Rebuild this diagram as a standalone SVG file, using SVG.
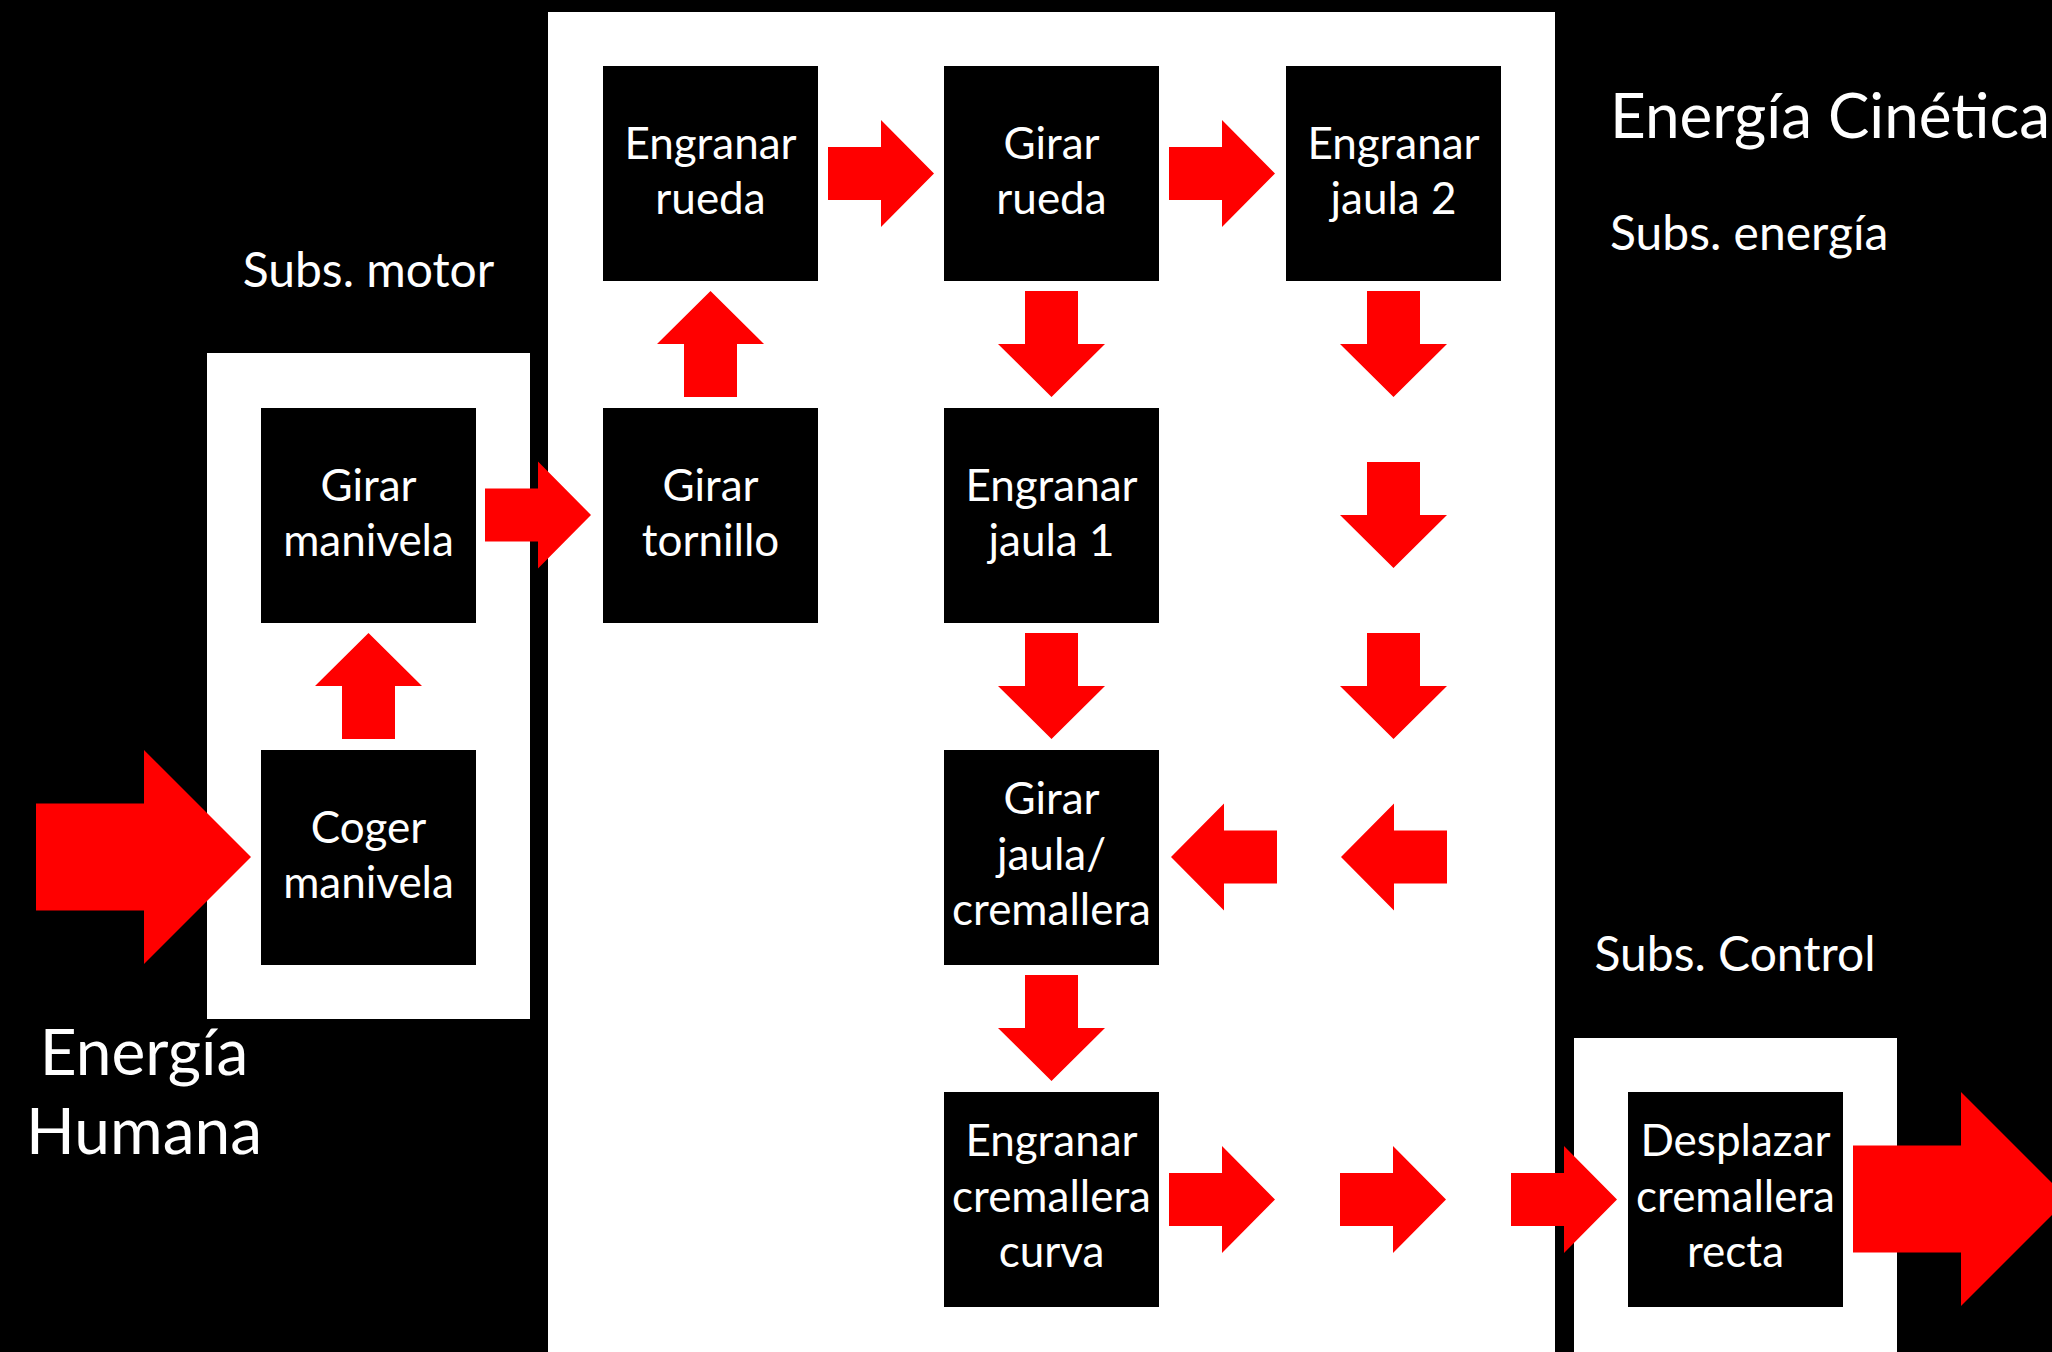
<svg xmlns="http://www.w3.org/2000/svg" xmlns:xlink="http://www.w3.org/1999/xlink" width="2052" height="1352" viewBox="0 0 2052 1352">
  <style>
    .panel { fill: #ffffff; }
    .box { fill: #000000; }
    .lbl { font-family: Lato, "Open Sans", sans-serif; fill: #ffffff; font-size: 44px; text-anchor: middle; }
    .title { font-family: Lato, "Open Sans", sans-serif; fill: #ffffff; font-size: 48px; }
    .big { font-size: 62px; }
    .huge { font-size: 64px; }
    .arrow { fill: #ff0000; }
  </style>
  <defs>
    <!-- block arrow pointing right, shaft starts at origin, centre line y=0 -->
    <path id="arr" d="M0,-26.5 H53 V-53.5 L106,0 L53,53.5 V26.5 H0 Z"/>
    <path id="arrBig" d="M0,-53.5 H108 V-107 L215,0 L108,107 V53.5 H0 Z"/>
  </defs>

  <!-- background -->
  <rect x="0" y="0" width="2052" height="1352" fill="#000000"/>

  <!-- subsystem panels -->
  <rect id="panel-motor" class="panel" x="207" y="353" width="323" height="666"/>
  <rect id="panel-energia" class="panel" x="548" y="12" width="1007" height="1360"/>
  <rect id="panel-control" class="panel" x="1574" y="1038" width="323" height="334"/>

  <!-- free labels -->
  <g id="labels">
    <text class="title" x="368.5" y="287" text-anchor="middle">Subs. motor</text>
    <text class="title big" x="1610" y="138">Energía Cinética</text>
    <text class="title" x="1610" y="250">Subs. energía</text>
    <text class="title" x="1735" y="971" text-anchor="middle">Subs. Control</text>
    <text class="title huge" x="144" y="1075" text-anchor="middle">Energía</text>
    <text class="title huge" x="144" y="1154" text-anchor="middle">Humana</text>
  </g>

  <!-- process nodes -->
  <g id="n-girar-manivela">
    <rect class="box" x="261" y="408" width="215" height="215"/>
    <text class="lbl" x="368.5" y="501">Girar</text>
    <text class="lbl" x="368.5" y="556">manivela</text>
  </g>
  <g id="n-coger-manivela">
    <rect class="box" x="261" y="750" width="215" height="215"/>
    <text class="lbl" x="368.5" y="843">Coger</text>
    <text class="lbl" x="368.5" y="898">manivela</text>
  </g>
  <g id="n-engranar-rueda">
    <rect class="box" x="603" y="66" width="215" height="215"/>
    <text class="lbl" x="710.5" y="159">Engranar</text>
    <text class="lbl" x="710.5" y="214">rueda</text>
  </g>
  <g id="n-girar-tornillo">
    <rect class="box" x="603" y="408" width="215" height="215"/>
    <text class="lbl" x="710.5" y="501">Girar</text>
    <text class="lbl" x="710.5" y="556">tornillo</text>
  </g>
  <g id="n-girar-rueda">
    <rect class="box" x="944" y="66" width="215" height="215"/>
    <text class="lbl" x="1051.5" y="159">Girar</text>
    <text class="lbl" x="1051.5" y="214">rueda</text>
  </g>
  <g id="n-engranar-jaula1">
    <rect class="box" x="944" y="408" width="215" height="215"/>
    <text class="lbl" x="1051.5" y="501">Engranar</text>
    <text class="lbl" x="1051.5" y="556">jaula 1</text>
  </g>
  <g id="n-girar-jaula">
    <rect class="box" x="944" y="750" width="215" height="215"/>
    <text class="lbl" x="1051.5" y="814">Girar</text>
    <text class="lbl" x="1051.5" y="870">jaula/</text>
    <text class="lbl" x="1051.5" y="925">cremallera</text>
  </g>
  <g id="n-engranar-cremallera">
    <rect class="box" x="944" y="1092" width="215" height="215"/>
    <text class="lbl" x="1051.5" y="1156">Engranar</text>
    <text class="lbl" x="1051.5" y="1212">cremallera</text>
    <text class="lbl" x="1051.5" y="1267">curva</text>
  </g>
  <g id="n-engranar-jaula2">
    <rect class="box" x="1286" y="66" width="215" height="215"/>
    <text class="lbl" x="1393.5" y="159">Engranar</text>
    <text class="lbl" x="1393.5" y="214">jaula 2</text>
  </g>
  <g id="n-desplazar">
    <rect class="box" x="1628" y="1092" width="215" height="215"/>
    <text class="lbl" x="1735.5" y="1156">Desplazar</text>
    <text class="lbl" x="1735.5" y="1212">cremallera</text>
    <text class="lbl" x="1735.5" y="1267">recta</text>
  </g>

  <!-- connectors -->
  <g id="connectors" class="arrow">
    <use xlink:href="#arrBig" transform="translate(36,857)"/>
    <use xlink:href="#arr" transform="translate(368.5,739) rotate(-90)"/>
    <use xlink:href="#arr" transform="translate(485,515)"/>
    <use xlink:href="#arr" transform="translate(710.5,397) rotate(-90)"/>
    <use xlink:href="#arr" transform="translate(828,173.5)"/>
    <use xlink:href="#arr" transform="translate(1169,173.5)"/>
    <use xlink:href="#arr" transform="translate(1051.5,291) rotate(90)"/>
    <use xlink:href="#arr" transform="translate(1051.5,633) rotate(90)"/>
    <use xlink:href="#arr" transform="translate(1051.5,975) rotate(90)"/>
    <use xlink:href="#arr" transform="translate(1393.5,291) rotate(90)"/>
    <use xlink:href="#arr" transform="translate(1393.5,462) rotate(90)"/>
    <use xlink:href="#arr" transform="translate(1393.5,633) rotate(90)"/>
    <use xlink:href="#arr" transform="translate(1447,857) rotate(180)"/>
    <use xlink:href="#arr" transform="translate(1277,857) rotate(180)"/>
    <use xlink:href="#arr" transform="translate(1169,1199.5)"/>
    <use xlink:href="#arr" transform="translate(1340,1199.5)"/>
    <use xlink:href="#arr" transform="translate(1511,1199.5)"/>
    <use xlink:href="#arrBig" transform="translate(1853,1199)"/>
  </g>
</svg>
